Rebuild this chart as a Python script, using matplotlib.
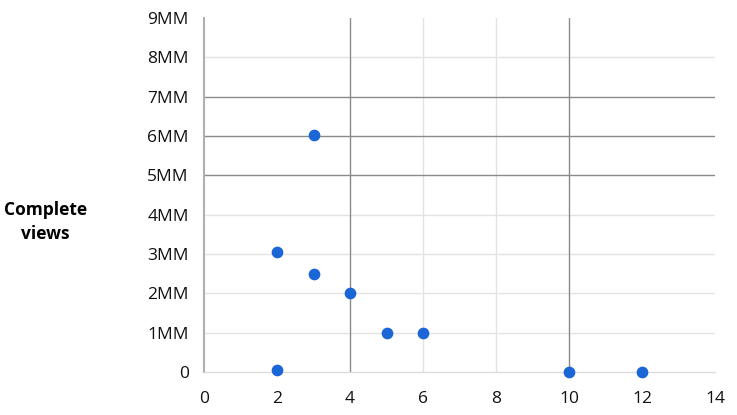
import matplotlib.pyplot as plt
from matplotlib.ticker import FuncFormatter

# data
episodes = [2, 3, 3, 4, 5, 6, 2, 10, 12]
views = [3.05e6, 6.02e6, 2.48e6, 2.0e6, 1.0e6, 1.0e6, 0.05e6, 0, 0]

x_ticks = [0, 2, 4, 6, 8, 10, 12, 14]
y_ticks = [0, 1e6, 2e6, 3e6, 4e6, 5e6, 6e6, 7e6, 8e6, 9e6]
# gridlines as they appear in the original
light_x = [6, 8]
dark_x = [4, 10]
light_y = [1e6, 2e6, 3e6, 4e6, 8e6]
dark_y = [5e6, 6e6, 7e6]

plt.rcParams['font.family'] = ['Open Sans', 'DejaVu Sans']

fig = plt.figure(figsize=(7.37, 4.15), dpi=100)
ax = fig.add_axes([0.2768, 0.1036, 0.6934, 0.853])

for x in light_x:
    ax.axvline(x, color='#e3e3e3', lw=1, zorder=1)
for y in light_y:
    ax.axhline(y, color='#e3e3e3', lw=1, zorder=1)
for x in dark_x:
    ax.axvline(x, color='#8a8a8a', lw=1, zorder=2)
for y in dark_y:
    ax.axhline(y, color='#8a8a8a', lw=1, zorder=2)

ax.scatter(episodes, views, s=55, color='#1a66d6', zorder=3, clip_on=False)

ax.set_xlim(0, 14)
ax.set_ylim(0, 9e6)
ax.set_xticks(x_ticks)
ax.set_yticks(y_ticks)
ax.yaxis.set_major_formatter(FuncFormatter(lambda v, p: '0' if v == 0 else '%dMM' % round(v / 1e6)))
ax.tick_params(length=0, labelsize=12.5, colors='#111111')
ax.tick_params(axis='x', pad=14)
ax.tick_params(axis='y', pad=11)

for s in ['top', 'right']:
    ax.spines[s].set_visible(False)
ax.spines['left'].set_color('#b0b0b0')
ax.spines['left'].set_linewidth(1.5)
ax.spines['bottom'].set_color('#dcdcdc')
ax.spines['bottom'].set_linewidth(1)

fig.text(0.062, 0.465, 'Complete\nviews', ha='center', va='center',
         fontsize=12.5, fontweight='bold', linespacing=1.4)

fig.savefig('out.png', dpi=100)
